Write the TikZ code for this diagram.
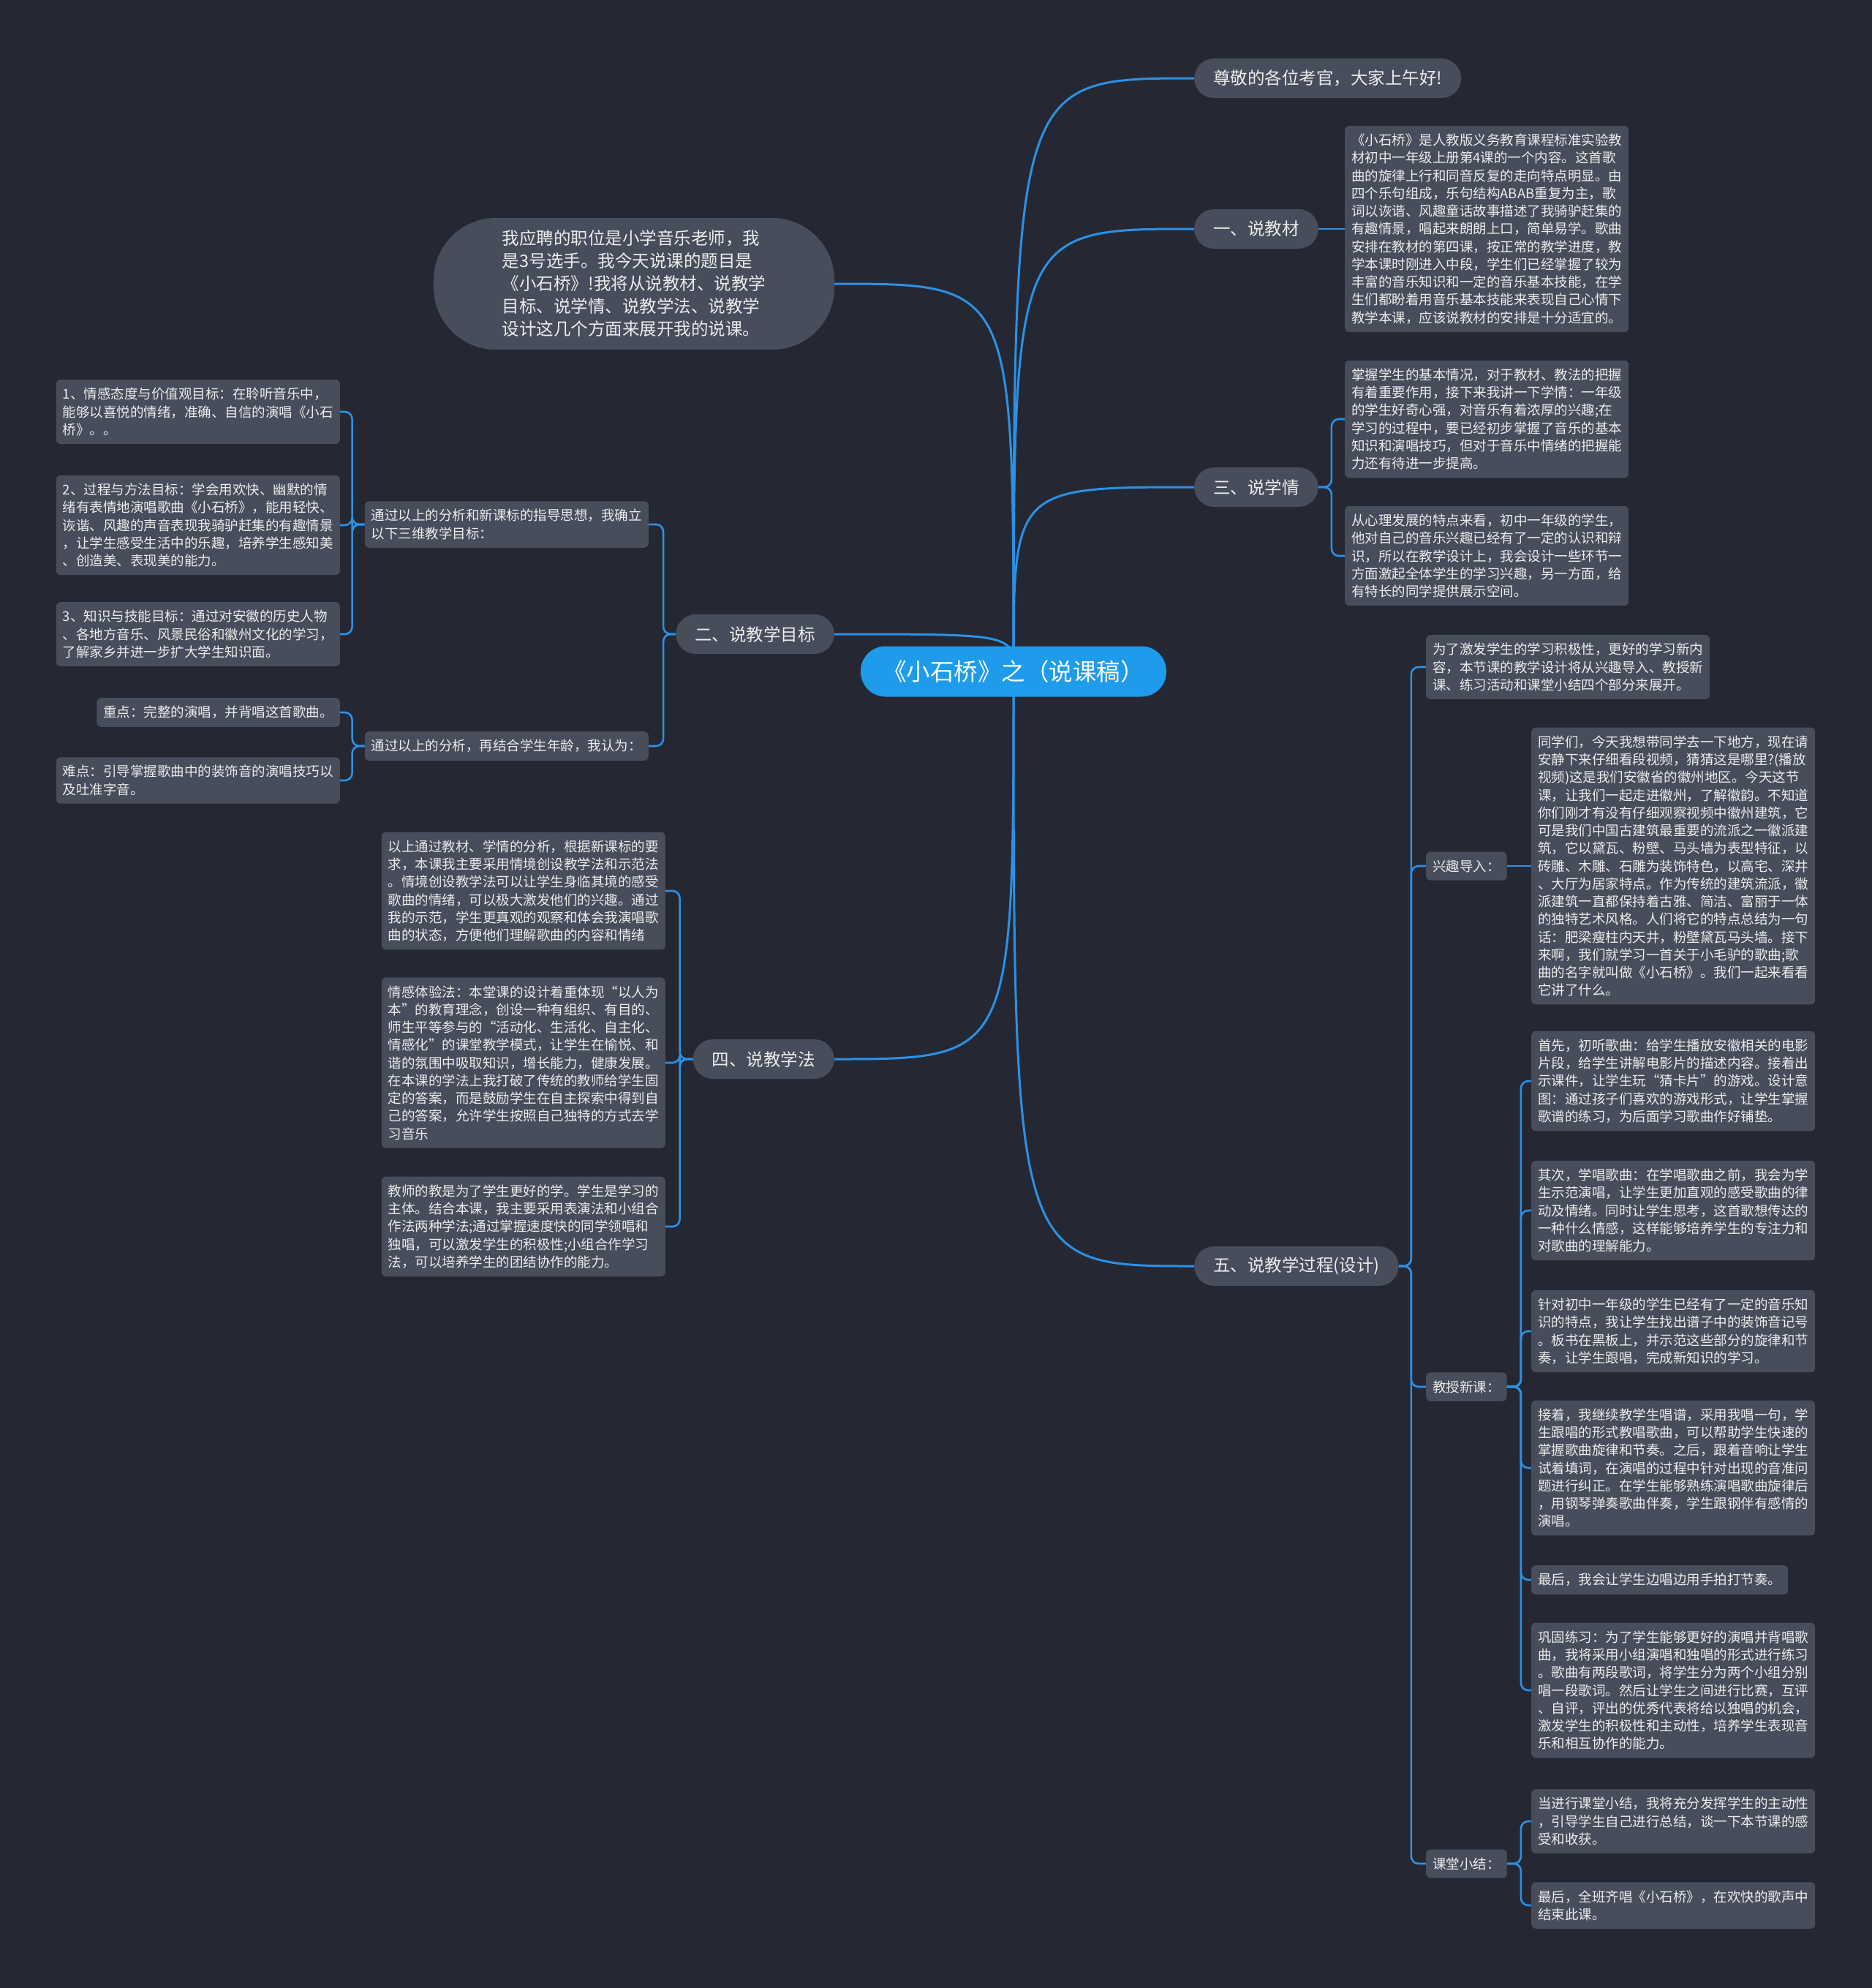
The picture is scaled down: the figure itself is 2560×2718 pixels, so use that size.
\documentclass[tikz,border=0pt]{standalone}
\usepackage{fontspec}
\newfontfamily\cjk{Noto Sans CJK SC}
\usetikzlibrary{calc}
\definecolor{bgc}{RGB}{37,40,51}
\definecolor{nodec}{RGB}{72,77,92}
\definecolor{linec}{RGB}{43,145,230}
\definecolor{centc}{RGB}{30,155,235}
\definecolor{txtc}{RGB}{236,236,236}
\pgfdeclarelayer{bg}
\pgfsetlayers{bg,main}
\begin{document}
\begin{tikzpicture}[x=1pt,y=-1pt,
  conn/.style={draw=linec, line width=3pt},
  brk/.style={draw=linec, line width=2.6pt, rounded corners=10pt},
  topic/.style={fill=nodec, text=txtc, rounded corners=27pt, minimum height=54pt, inner xsep=26pt, inner ysep=0pt, font=\fontsize{23.5}{28}\selectfont\cjk},
  box/.style={fill=nodec, text=txtc, rounded corners=6pt, align=left, inner xsep=9pt, inner ysep=11pt, font=\fontsize{18.5}{24.25}\selectfont\cjk},
  rb/.style={box, anchor=west},
  lb/.style={box, anchor=east}
  ]
\useasboundingbox (0,0) rectangle (2560,2718);
% center
\node[fill=centc, text=white, rounded corners=34pt, minimum width=418pt, minimum height=69pt, inner sep=0pt, font=\fontsize{32.5}{38}\selectfont\cjk] (c) at (1386,918) {《小石桥》之（说课稿）};
% right topics
\node[topic, anchor=west] (r0) at (1633,107) {尊敬的各位考官，大家上午好!};
\node[topic, anchor=west] (r1) at (1633,313) {一、说教材};
\node[topic, anchor=west] (r2) at (1633,666) {三、说学情};
\node[topic, anchor=west] (r3) at (1633,1731) {五、说教学过程(设计)};
% left topics
\node[fill=nodec, text=txtc, rounded corners=85pt, minimum width=548pt, minimum height=180pt, align=left, inner sep=0pt, font=\fontsize{23.5}{31}\selectfont\cjk] (l0) at (867,388) {我应聘的职位是小学音乐老师，我\\是3号选手。我今天说课的题目是\\《小石桥》!我将从说教材、说教学\\目标、说学情、说教学法、说教学\\设计这几个方面来展开我的说课。};
\node[topic, anchor=east] (l1) at (1141,867) {二、说教学目标};
\node[topic, anchor=east] (l2) at (1141,1448) {四、说教学法};
% one
\node[rb] (t1) at (1839,313) {《小石桥》是人教版义务教育课程标准实验教\\材初中一年级上册第4课的一个内容。这首歌\\曲的旋律上行和同音反复的走向特点明显。由\\四个乐句组成，乐句结构ABAB重复为主，歌\\词以诙谐、风趣童话故事描述了我骑驴赶集的\\有趣情景，唱起来朗朗上口，简单易学。歌曲\\安排在教材的第四课，按正常的教学进度，教\\学本课时刚进入中段，学生们已经掌握了较为\\丰富的音乐知识和一定的音乐基本技能，在学\\生们都盼着用音乐基本技能来表现自己心情下\\教学本课，应该说教材的安排是十分适宜的。};
% three
\node[rb] (t2a) at (1839,573) {掌握学生的基本情况，对于教材、教法的把握\\有着重要作用，接下来我讲一下学情：一年级\\的学生好奇心强，对音乐有着浓厚的兴趣;在\\学习的过程中，要已经初步掌握了音乐的基本\\知识和演唱技巧，但对于音乐中情绪的把握能\\力还有待进一步提高。};
\node[rb] (t2b) at (1839,760) {从心理发展的特点来看，初中一年级的学生，\\他对自己的音乐兴趣已经有了一定的认识和辩\\识，所以在教学设计上，我会设计一些环节一\\方面激起全体学生的学习兴趣，另一方面，给\\有特长的同学提供展示空间。};
% five
\node[rb] (t3a) at (1950,912) {为了激发学生的学习积极性，更好的学习新内\\容，本节课的教学设计将从兴趣导入、教授新\\课、练习活动和课堂小结四个部分来展开。};
\node[rb] (t3b) at (1950,1184) {兴趣导入：};
\node[rb] (t3b1) at (2094,1184) {同学们，今天我想带同学去一下地方，现在请\\安静下来仔细看段视频，猜猜这是哪里?(播放\\视频)这是我们安徽省的徽州地区。今天这节\\课，让我们一起走进徽州，了解徽韵。不知道\\你们刚才有没有仔细观察视频中徽州建筑，它\\可是我们中国古建筑最重要的流派之一徽派建\\筑，它以黛瓦、粉壁、马头墙为表型特征，以\\砖雕、木雕、石雕为装饰特色，以高宅、深井\\、大厅为居家特点。作为传统的建筑流派，徽\\派建筑一直都保持着古雅、简洁、富丽于一体\\的独特艺术风格。人们将它的特点总结为一句\\话：肥梁瘦柱内天井，粉壁黛瓦马头墙。接下\\来啊，我们就学习一首关于小毛驴的歌曲;歌\\曲的名字就叫做《小石桥》。我们一起来看看\\它讲了什么。};
\node[rb] (t3c) at (1950,1896) {教授新课：};
\node[rb] (t3c1) at (2094,1478) {首先，初听歌曲：给学生播放安徽相关的电影\\片段，给学生讲解电影片的描述内容。接着出\\示课件，让学生玩“猜卡片”的游戏。设计意\\图：通过孩子们喜欢的游戏形式，让学生掌握\\歌谱的练习，为后面学习歌曲作好铺垫。};
\node[rb] (t3c2) at (2094,1655) {其次，学唱歌曲：在学唱歌曲之前，我会为学\\生示范演唱，让学生更加直观的感受歌曲的律\\动及情绪。同时让学生思考，这首歌想传达的\\一种什么情感，这样能够培养学生的专注力和\\对歌曲的理解能力。};
\node[rb] (t3c3) at (2094,1820) {针对初中一年级的学生已经有了一定的音乐知\\识的特点，我让学生找出谱子中的装饰音记号\\。板书在黑板上，并示范这些部分的旋律和节\\奏，让学生跟唱，完成新知识的学习。};
\node[rb] (t3c4) at (2094,2007) {接着，我继续教学生唱谱，采用我唱一句，学\\生跟唱的形式教唱歌曲，可以帮助学生快速的\\掌握歌曲旋律和节奏。之后，跟着音响让学生\\试着填词，在演唱的过程中针对出现的音准问\\题进行纠正。在学生能够熟练演唱歌曲旋律后\\，用钢琴弹奏歌曲伴奏，学生跟钢伴有感情的\\演唱。};
\node[rb] (t3c5) at (2094,2160) {最后，我会让学生边唱边用手拍打节奏。};
\node[rb] (t3c6) at (2094,2311) {巩固练习：为了学生能够更好的演唱并背唱歌\\曲，我将采用小组演唱和独唱的形式进行练习\\。歌曲有两段歌词，将学生分为两个小组分别\\唱一段歌词。然后让学生之间进行比赛，互评\\、自评，评出的优秀代表将给以独唱的机会，\\激发学生的积极性和主动性，培养学生表现音\\乐和相互协作的能力。};
\node[rb] (t3d) at (1950,2548) {课堂小结：};
\node[rb] (t3d1) at (2094,2490) {当进行课堂小结，我将充分发挥学生的主动性\\，引导学生自己进行总结，谈一下本节课的感\\受和收获。};
\node[rb] (t3d2) at (2094,2605) {最后，全班齐唱《小石桥》，在欢快的歌声中\\结束此课。};
% two
\node[lb] (l1a) at (887,717) {通过以上的分析和新课标的指导思想，我确立\\以下三维教学目标：};
\node[lb] (l1b) at (887,1020) {通过以上的分析，再结合学生年龄，我认为：};
\node[lb] (g1) at (465,563) {1、情感态度与价值观目标：在聆听音乐中，\\能够以喜悦的情绪，准确、自信的演唱《小石\\桥》。。};
\node[lb] (g2) at (465,718) {2、过程与方法目标：学会用欢快、幽默的情\\绪有表情地演唱歌曲《小石桥》，能用轻快、\\诙谐、风趣的声音表现我骑驴赶集的有趣情景\\，让学生感受生活中的乐趣，培养学生感知美\\、创造美、表现美的能力。};
\node[lb] (g3) at (465,867) {3、知识与技能目标：通过对安徽的历史人物\\、各地方音乐、风景民俗和徽州文化的学习，\\了解家乡并进一步扩大学生知识面。};
\node[lb] (g4) at (465,974) {重点：完整的演唱，并背唱这首歌曲。};
\node[lb] (g5) at (465,1067) {难点：引导掌握歌曲中的装饰音的演唱技巧以\\及吐准字音。};
% four
\node[lb] (l2a) at (910,1218) {以上通过教材、学情的分析，根据新课标的要\\求，本课我主要采用情境创设教学法和示范法\\。情境创设教学法可以让学生身临其境的感受\\歌曲的情绪，可以极大激发他们的兴趣。通过\\我的示范，学生更真观的观察和体会我演唱歌\\曲的状态，方便他们理解歌曲的内容和情绪};
\node[lb] (l2b) at (910,1453) {情感体验法：本堂课的设计着重体现“以人为\\本”的教育理念，创设一种有组织、有目的、\\师生平等参与的“活动化、生活化、自主化、\\情感化”的课堂教学模式，让学生在愉悦、和\\谐的氛围中吸取知识，增长能力，健康发展。\\在本课的学法上我打破了传统的教师给学生固\\定的答案，而是鼓励学生在自主探索中得到自\\己的答案，允许学生按照自己独特的方式去学\\习音乐};
\node[lb] (l2c) at (910,1677) {教师的教是为了学生更好的学。学生是学习的\\主体。结合本课，我主要采用表演法和小组合\\作法两种学法;通过掌握速度快的同学领唱和\\独唱，可以激发学生的积极性;小组合作学习\\法，可以培养学生的团结协作的能力。};
% connectors
\begin{pgfonlayer}{bg}
\fill[bgc] (0,0) rectangle (2560,2718);
\foreach \t in {r0,r1,r2,r3}
  \draw[conn] (c.center) .. controls (c.center |- \t.west) .. (\t.west);
\foreach \t in {l0,l1,l2}
  \draw[conn] (c.center) .. controls (c.center |- \t.east) .. (\t.east);
\draw[brk] (r1.east) -- (t1.west);
\foreach \t in {t2a,t2b}
  \draw[brk] (r2.east) -- ++(18,0) |- (\t.west);
\foreach \t in {t3a,t3b,t3c,t3d}
  \draw[brk] (r3.east) -- ++(17,0) |- (\t.west);
\draw[brk] (t3b.east) -- (t3b1.west);
\foreach \t in {t3c1,t3c2,t3c3,t3c4,t3c5,t3c6}
  \draw[brk] (t3c.east) -- ++(19,0) |- (\t.west);
\foreach \t in {t3d1,t3d2}
  \draw[brk] (t3d.east) -- ++(19,0) |- (\t.west);
\foreach \t in {l1a,l1b}
  \draw[brk] (l1.west) -- ++(-17,0) |- (\t.east);
\foreach \t in {g1,g2,g3}
  \draw[brk] (l1a.west) -- ++(-17,0) |- (\t.east);
\foreach \t in {g4,g5}
  \draw[brk] (l1b.west) -- ++(-17,0) |- (\t.east);
\foreach \t in {l2a,l2b,l2c}
  \draw[brk] (l2.west) -- ++(-18,0) |- (\t.east);
\end{pgfonlayer}
\end{tikzpicture}
\end{document}
